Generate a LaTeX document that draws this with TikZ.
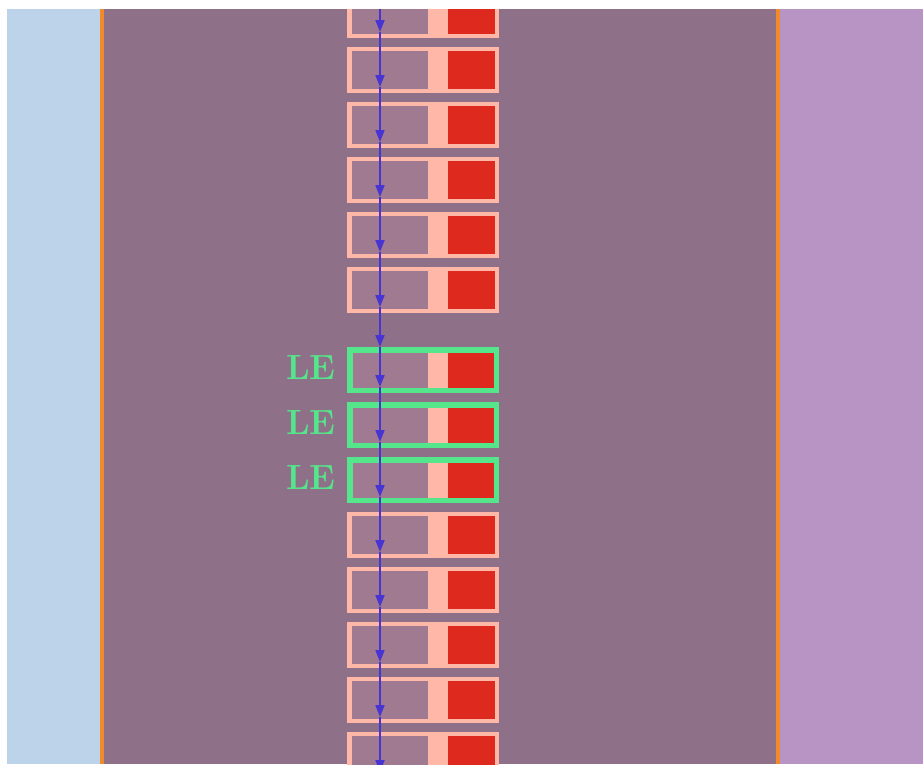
\documentclass[tikz,border=0pt]{standalone}
\usetikzlibrary{arrows.meta,calc}
\definecolor{lblue}{RGB}{189,211,234}
\definecolor{mauve}{RGB}{142,112,136}
\definecolor{lpurple}{RGB}{183,148,195}
\definecolor{orangeln}{RGB}{240,138,42}
\definecolor{pinkbox}{RGB}{255,183,168}
\definecolor{innerdark}{RGB}{160,122,144}
\definecolor{redbox}{RGB}{222,42,30}
\definecolor{greenle}{RGB}{85,229,138}
\definecolor{flowblue}{RGB}{72,52,210}
\tikzset{
  rowbox/.style={fill=pinkbox, draw=none, minimum width=152pt, minimum height=46pt, inner sep=0pt, outer sep=0pt},
  sepline/.style={draw=orangeln, line width=3.5pt},
  leframe/.style={draw=greenle, line width=5.5pt},
  lelabel/.style={text=greenle, font=\fontsize{35}{38}\selectfont\bfseries, inner sep=0pt},
  flow/.style={draw=flowblue, line width=1.8pt, -{Triangle[length=12pt,width=9pt]}}
}
\begin{document}
\begin{tikzpicture}[x=1pt,y=-1pt]
\useasboundingbox (0,0) rectangle (923,764);
\fill[white] (0,0) rectangle (923,764);
\begin{scope}
\clip (7,9) rectangle (923,764);
\fill[lblue] (7,9) rectangle (102,764);
\fill[mauve] (102,9) rectangle (778,764);
\fill[lpurple] (778,9) rectangle (923,764);
\coordinate (s1top) at (102,9);
\coordinate (s1bot) at (102,764);
\coordinate (s2top) at (778,9);
\coordinate (s2bot) at (778,764);
\draw[sepline] (s1top) -- (s1bot);
\draw[sepline] (s2top) -- (s2bot);
% rows
\foreach \i/\t in {1/-8,2/47,3/102,4/157,5/212,6/267,7/347,8/402,9/457,10/512,11/567,12/622,13/677,14/732} {
  \node[rowbox] (r\i) at (423,\t+23) {};
  \fill[innerdark] ($(r\i.north west)+(5,4)$) rectangle ($(r\i.south west)+(81,-4)$);
  \fill[redbox] ($(r\i.north west)+(101,4)$) rectangle ($(r\i.south west)+(148,-4)$);
  \coordinate (tip\i) at ($(r\i.south)+(-43,-6)$);
}
% LE frames and labels
\foreach \i in {7,8,9} {
  \draw[leframe] ($(r\i.north west)+(2.75,2.75)$) rectangle ($(r\i.south east)+(-2.75,-2.75)$);
  \node[lelabel, anchor=base east] (le\i) at ($(r\i.north west)+(-11,32)$) {LE};
}
% flow line
\coordinate (ftop) at (380,9);
\coordinate (fgap) at ($(r7.north)+(-43,0)$);
\draw[flow] (ftop) -- (tip1);
\foreach \a/\b in {1/2,2/3,3/4,4/5,5/6} {
  \draw[flow] (tip\a) -- (tip\b);
}
\draw[flow] (tip6) -- (fgap);
\draw[flow] (fgap) -- (tip7);
\foreach \a/\b in {7/8,8/9,9/10,10/11,11/12,12/13,13/14} {
  \draw[flow] (tip\a) -- (tip\b);
}
\end{scope}
\end{tikzpicture}
\end{document}
